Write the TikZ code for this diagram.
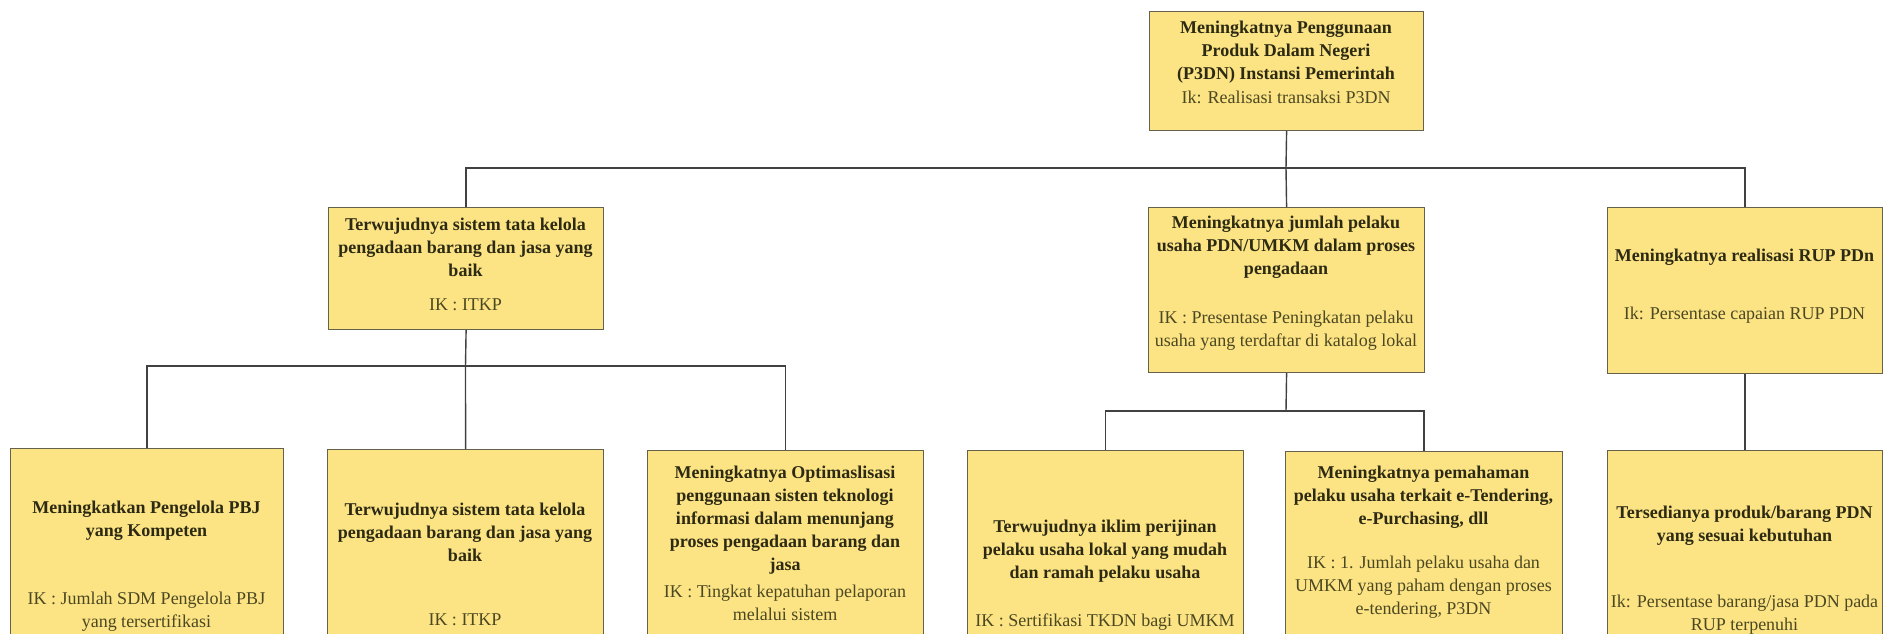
\documentclass[tikz,border=0pt]{standalone}
\usepackage{fontspec}
\setmainfont{Liberation Serif}
\definecolor{boxfill}{RGB}{252,228,132}
\definecolor{boxline}{RGB}{100,98,76}
\definecolor{ttlcol}{RGB}{45,42,20}
\definecolor{ikcol}{RGB}{75,72,34}
\definecolor{conncol}{RGB}{65,65,65}
\begin{document}
\begin{tikzpicture}[x=1pt,y=-1pt,
  box/.style={draw=boxline,fill=boxfill,line width=1.2pt,rectangle,anchor=north west,inner sep=0pt,minimum width=#1},
  ttl/.style={font=\bfseries\fontsize{18}{23}\selectfont,text=ttlcol,align=center,inner sep=0pt},
  ik/.style={font=\fontsize{18}{23}\selectfont,text=ikcol,align=center,inner sep=0pt},
  conn/.style={draw=conncol,line width=1.4pt}]
\useasboundingbox (0,0) rectangle (1883,633);
\clip (0,0) rectangle (1883,633);
% boxes
\node[box=274,minimum height=119] (T) at (1149,11) {};
\node[box=275,minimum height=122] (A) at (328,207) {};
\node[box=276,minimum height=165] (B) at (1148,207) {};
\node[box=275,minimum height=166] (C) at (1607,207) {};
\node[box=273,minimum height=200] (D1) at (10,448) {};
\node[box=276,minimum height=200] (D2) at (327,449) {};
\node[box=276,minimum height=200] (D3) at (647,450) {};
\node[box=276,minimum height=200] (E1) at (967,450) {};
\node[box=277,minimum height=200] (E2) at (1285,451) {};
\node[box=275,minimum height=200] (F1) at (1607,450) {};
% texts
\node[ttl] (Tt) at (1286,52) {Meningkatnya Penggunaan\\Produk Dalam Negeri\\(P3DN) Instansi Pemerintah};
\node[ik] (Ti) at (1286,97) {Ik: Realisasi transaksi P3DN};
\node[ttl] (At) at (465.5,247) {Terwujudnya sistem tata kelola\\pengadaan barang dan jasa yang\\baik};
\node[ik] (Ai) at (465.5,305) {IK : ITKP};
\node[ttl] (Bt) at (1286,247) {Meningkatnya jumlah pelaku\\usaha PDN/UMKM dalam proses\\pengadaan};
\node[ik] (Bi) at (1286,331) {IK : Presentase Peningkatan pelaku\\usaha yang terdaftar di katalog lokal};
\node[ttl] (Ct) at (1744.5,257) {Meningkatnya realisasi RUP PDn};
\node[ik] (Ci) at (1744.5,315) {Ik: Persentase capaian RUP PDN};
\node[ttl] (D1t) at (146.5,521) {Meningkatkan Pengelola PBJ\\yang Kompeten};
\node[ik] (D1i) at (146.5,612) {IK : Jumlah SDM Pengelola PBJ\\yang tersertifikasi};
\node[ttl] (D2t) at (465,532) {Terwujudnya sistem tata kelola\\pengadaan barang dan jasa yang\\baik};
\node[ik] (D2i) at (465,620) {IK : ITKP};
\node[ttl] (D3t) at (785,520) {Meningkatnya Optimaslisasi\\penggunaan sisten teknologi\\informasi dalam menunjang\\proses pengadaan barang dan\\jasa};
\node[ik] (D3i) at (785,603) {IK : Tingkat kepatuhan pelaporan\\melalui sistem};
\node[ttl] (E1t) at (1105,551) {Terwujudnya iklim perijinan\\pelaku usaha lokal yang mudah\\dan ramah pelaku usaha};
\node[ik] (E1i) at (1105,622) {IK : Sertifikasi TKDN bagi UMKM};
\node[ttl] (E2t) at (1423.5,497) {Meningkatnya pemahaman\\pelaku usaha terkait e-Tendering,\\e-Purchasing, dll};
\node[ik] (E2i) at (1423.5,587) {IK : 1. Jumlah pelaku usaha dan\\UMKM yang paham dengan proses\\e-tendering, P3DN};
\node[ttl] (F1t) at (1744.5,526) {Tersedianya produk/barang PDN\\yang sesuai kebutuhan};
\node[ik] (F1i) at (1744.5,615) {Ik: Persentase barang/jasa PDN pada\\RUP terpenuhi};
% junctions
\coordinate (j1) at (1286,168);
\coordinate (j2) at (465.5,366);
\coordinate (j3) at (1286,411);
% connectors
\draw[conn] (T.south) -- (j1);
\draw[conn] (A.north) -- (A.north |- j1) -- (C.north |- j1) -- (C.north);
\draw[conn] (j1) -- (B.north);
\draw[conn] (A.south) -- (j2);
\draw[conn] (D1.north) -- (D1.north |- j2) -- (D3.north |- j2) -- (D3.north);
\draw[conn] (j2) -- (D2.north);
\draw[conn] (B.south) -- (j3);
\draw[conn] (E1.north) -- (E1.north |- j3) -- (E2.north |- j3) -- (E2.north);
\draw[conn] (C.south) -- (F1.north);
\end{tikzpicture}
\end{document}
